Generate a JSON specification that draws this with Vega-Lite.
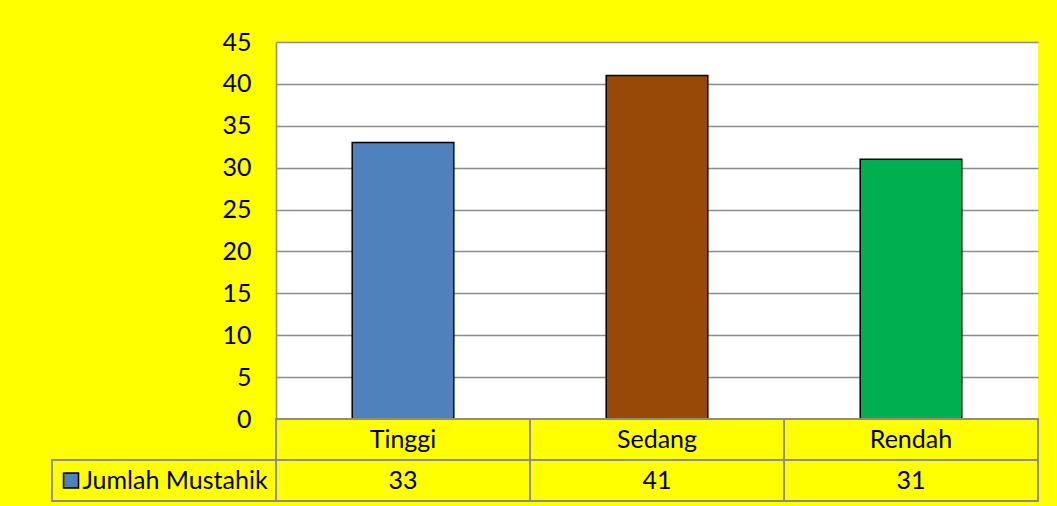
{
  "$schema": "https://vega.github.io/schema/vega-lite/v6.json",
  "background": "#FFFF00",
  "padding": {"left": 51, "top": 30, "right": 20, "bottom": 8},
  "datasets": {
    "main": [
      {"kategori": "Tinggi", "jumlah": 33},
      {"kategori": "Sedang", "jumlah": 41},
      {"kategori": "Rendah", "jumlah": 31}
    ],
    "legend": [{"seri": "Jumlah Mustahik"}],
    "empty": []
  },
  "columns": 2,
  "spacing": 0,
  "bounds": "flush",
  "align": "each",
  "concat": [
    {
      "data": {"name": "empty"},
      "width": 224,
      "height": 377,
      "mark": "rect",
      "encoding": {}
    },
    {
      "data": {"name": "main"},
      "width": 762,
      "height": 377,
      "view": {"fill": "white", "stroke": null},
      "mark": {"type": "bar", "width": {"band": 0.4}, "stroke": "black", "strokeWidth": 1.5},
      "encoding": {
        "x": {"field": "kategori", "type": "nominal", "sort": ["Tinggi", "Sedang", "Rendah"], "scale": {"paddingInner": 0, "paddingOuter": 0}, "axis": null},
        "y": {
          "field": "jumlah", "type": "quantitative",
          "scale": {"domain": [0, 45]},
          "axis": {
            "values": [0, 5, 10, 15, 20, 25, 30, 35, 40, 45],
            "grid": true, "gridColor": "#8C8C8C", "gridWidth": 1.5,
            "ticks": false, "domainColor": "#8C8C8C", "domainWidth": 1.5,
            "labelFontSize": 25, "labelColor": "black", "labelPadding": 25, "labelFont": "Lato", "title": null
          }
        },
        "color": {"field": "kategori", "type": "nominal", "scale": {"domain": ["Tinggi", "Sedang", "Rendah"], "range": ["#4F81BD", "#984807", "#00B050"]}, "legend": null}
      }
    },
    {
      "data": {"name": "empty"},
      "width": 224,
      "height": 41,
      "mark": "rect",
      "encoding": {}
    },
    {
      "data": {"name": "main"},
      "width": 762,
      "height": 41,
      "encoding": {
        "x": {"field": "kategori", "type": "nominal", "sort": ["Tinggi", "Sedang", "Rendah"], "scale": {"paddingInner": 0, "paddingOuter": 0}, "axis": null}
      },
      "layer": [
        {"mark": {"type": "bar", "fill": "#FFFF00", "stroke": "#8C8C8C", "strokeWidth": 2}},
        {"mark": {"type": "text", "fontSize": 25, "font": "Lato", "color": "black"}, "encoding": {"text": {"field": "kategori"}}}
      ]
    },
    {
      "data": {"name": "legend"},
      "width": 224,
      "height": 41,
      "encoding": {
        "x": {"field": "seri", "type": "nominal", "scale": {"paddingInner": 0, "paddingOuter": 0}, "axis": null}
      },
      "layer": [
        {"mark": {"type": "bar", "fill": "#FFFF00", "stroke": "#8C8C8C", "strokeWidth": 2}},
        {"mark": {"type": "point", "shape": "square", "filled": true, "fill": "#4F81BD", "stroke": "black", "strokeWidth": 1.5, "size": 225, "opacity": 1, "xOffset": -93}},
        {"mark": {"type": "text", "fontSize": 25, "font": "Lato", "color": "black", "dx": 11}, "encoding": {"text": {"field": "seri"}}}
      ]
    },
    {
      "data": {"name": "main"},
      "width": 762,
      "height": 41,
      "encoding": {
        "x": {"field": "kategori", "type": "nominal", "sort": ["Tinggi", "Sedang", "Rendah"], "scale": {"paddingInner": 0, "paddingOuter": 0}, "axis": null}
      },
      "layer": [
        {"mark": {"type": "bar", "fill": "#FFFF00", "stroke": "#8C8C8C", "strokeWidth": 2}},
        {"mark": {"type": "text", "fontSize": 25, "font": "Lato", "color": "black"}, "encoding": {"text": {"field": "jumlah"}}}
      ]
    }
  ],
  "config": {
    "font": "Lato",
    "view": {"stroke": null}
  }
}
